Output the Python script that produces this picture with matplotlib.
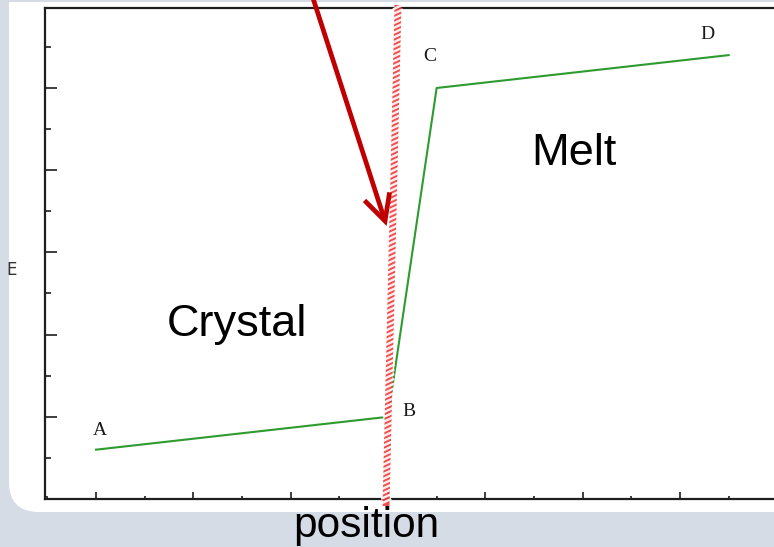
import numpy as np
import matplotlib
matplotlib.use("Agg")
import matplotlib.pyplot as plt
from matplotlib.path import Path
from matplotlib.patches import PathPatch
from matplotlib.lines import Line2D
from matplotlib.ticker import MultipleLocator

# Energy profile across the crystal / melt interface
point_labels = ["A", "B", "C", "D"]
position = [1.0, 4.0, 4.5, 7.5]
energy = [0.6, 1.0, 5.0, 5.4]

W, H = 774, 547
DPI = 100
fig = plt.figure(figsize=(W / DPI, H / DPI), dpi=DPI)
fig.patch.set_facecolor("#d5dce6")


def fp(x, y):
    """Pixel position (from top-left) to figure fraction."""
    return x / W, 1 - y / H


# White slide panel with a rounded lower-left corner
r = 30
verts = [fp(9, 2), fp(9, 512 - r), fp(9, 512), fp(9 + r, 512),
         fp(W + 5, 512), fp(W + 5, 2), fp(9, 2)]
codes = [Path.MOVETO, Path.LINETO, Path.CURVE3, Path.CURVE3,
         Path.LINETO, Path.LINETO, Path.CLOSEPOLY]
panel = PathPatch(Path(verts, codes), transform=fig.transFigure,
                  facecolor="white", edgecolor="none", zorder=-10)
fig.add_artist(panel)

# Axes frame (right edge runs past the figure)
ax_left, ax_right, ax_top, ax_bottom = 45, 790, 8, 499
ax = fig.add_axes([ax_left / W, 1 - ax_bottom / H,
                   (ax_right - ax_left) / W, (ax_bottom - ax_top) / H])
ax.set_zorder(1)
ax.set_facecolor("none")
x_unit = 97.33
y_unit = 82.2
ax.set_xlim(1 - (96 - ax_left) / x_unit, 1 + (ax_right - 96) / x_unit)
ax.set_ylim(0, (ax_bottom - ax_top) / y_unit)

for side in ["left", "top", "bottom", "right"]:
    ax.spines[side].set_color("#1e1e1e")
    ax.spines[side].set_linewidth(1.6)

ax.xaxis.set_major_locator(MultipleLocator(1))
ax.xaxis.set_minor_locator(MultipleLocator(0.5))
ax.yaxis.set_major_locator(MultipleLocator(1))
ax.yaxis.set_minor_locator(MultipleLocator(0.5))
ax.tick_params(axis="both", which="both", direction="in", color="#1e1e1e",
               labelbottom=False, labelleft=False, top=False, right=False)
ax.tick_params(axis="y", which="major", length=8.5, width=1.2)
ax.tick_params(axis="y", which="minor", length=4.3, width=1.2)
ax.tick_params(axis="x", which="major", length=5.2, width=1.2)
ax.tick_params(axis="x", which="minor", length=2.0, width=1.2)

# Energy curve
ax.plot(position, energy, color="#2e9b2e", lw=1.5, zorder=3)

# Point labels
label_offsets = {"A": (0.04, 0.23), "B": (0.22, 0.06), "C": (-0.07, 0.38), "D": (-0.22, 0.25)}
for name, x, y in zip(point_labels, position, energy):
    dx, dy = label_offsets[name]
    ax.text(x + dx, y + dy, name, family="Liberation Serif", fontsize=14,
            color="#1a1a1a", ha="center", va="center", zorder=4)

# Striped interface marker (slightly tilted)
top_pt = np.array([398.0, 5.0])
bot_pt = np.array([386.0, 506.0])
bx, by = zip(fp(*top_pt), fp(*bot_pt))
fig.add_artist(Line2D(bx, by, transform=fig.transFigure, color="#f03c3c",
                      lw=5.0, solid_capstyle="butt", alpha=0.9, zorder=5))
direction = (bot_pt - top_pt) / np.linalg.norm(bot_pt - top_pt)
normal = np.array([-direction[1], direction[0]])
length = np.linalg.norm(bot_pt - top_pt)
for s in np.arange(2, length - 2, 4.8):
    c = top_pt + direction * s
    p1 = c - normal * 4 - direction * 2
    p2 = c + normal * 4 + direction * 2
    sx, sy = zip(fp(*p1), fp(*p2))
    fig.add_artist(Line2D(sx, sy, transform=fig.transFigure, color="white",
                          lw=1.7, alpha=0.9, zorder=6))

# Red pointer arrow with open head
tip = np.array([385.0, 221.0])
tail = np.array([311.0, -8.0])
sx, sy = zip(fp(*tail), fp(*tip))
fig.add_artist(Line2D(sx, sy, transform=fig.transFigure, color="#c00000",
                      lw=3.4, solid_capstyle="butt", zorder=7))
back = (tail - tip) / np.linalg.norm(tail - tip)
head = []
for ang in (np.radians(27), np.radians(-27)):
    rot = np.array([[np.cos(ang), -np.sin(ang)], [np.sin(ang), np.cos(ang)]])
    head.append(tip + rot @ back * 29)
hx, hy = zip(fp(*head[0]), fp(*tip), fp(*head[1]))
fig.add_artist(Line2D(hx, hy, transform=fig.transFigure, color="#c00000",
                      lw=3.4, solid_joinstyle="miter", solid_capstyle="butt",
                      zorder=7))

# Region and axis captions
fig.text(*fp(237, 336), "Crystal", family="Liberation Sans", fontsize=32.5,
         ha="center", va="baseline", color="black", zorder=8)
fig.text(*fp(574, 165), "Melt", family="Liberation Sans", fontsize=32.5,
         ha="center", va="baseline", color="black", zorder=8)
fig.text(*fp(366, 537), "position", family="Liberation Sans", fontsize=30.5,
         ha="center", va="baseline", color="black", zorder=8)
fig.text(*fp(12, 270), "E", family="DejaVu Sans", fontsize=12,
         ha="center", va="center", color="#333333", zorder=8)

fig.savefig("out.png", dpi=DPI, facecolor=fig.get_facecolor())
